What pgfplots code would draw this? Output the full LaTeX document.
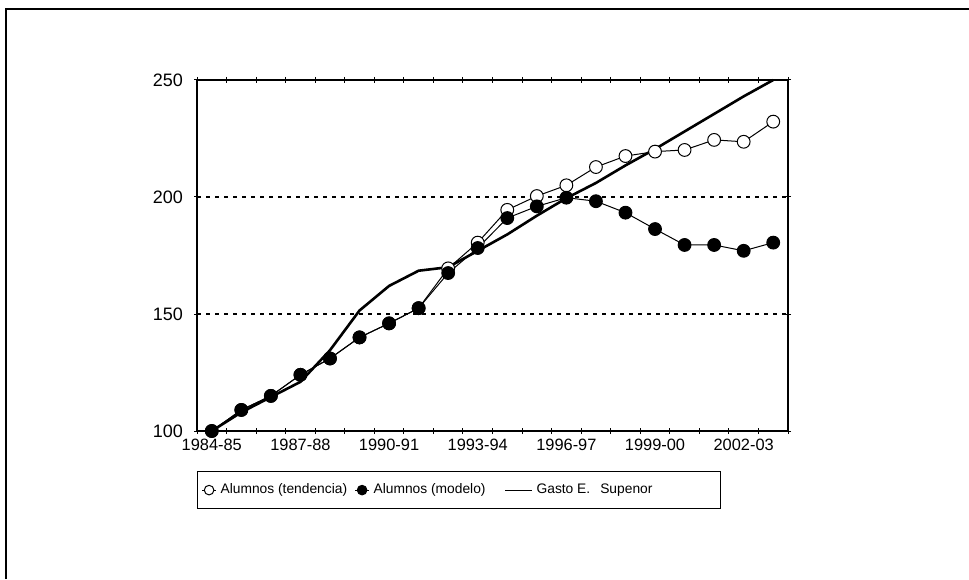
\documentclass[border=0pt]{standalone}
\usepackage{fontspec}
\setmainfont{Liberation Sans}
\usepackage{pgfplots}
\pgfplotsset{compat=1.18}
\pgfplotsset{
  markleg/.style={legend image code/.code={\draw[mark repeat=2,mark phase=2,mark size=2.4pt,##1] plot coordinates {(0pt,0pt)(3.5pt,0pt)(7pt,0pt)};}},
  lineleg/.style={legend image code/.code={\draw[##1, line width=0.5pt] (0pt,0pt) -- (13.5pt,0pt);}},
}
\pgfplotstableread{
i tend model gasto
0 100 100 100
1 109 109 108
2 115 115 114.5
3 124 124 121
4 131 131 134.5
5 140 140 151.5
6 146 146 162
7 152.5 152.5 168.5
8 169.5 167.5 170
9 180.5 178.2 177
10 194.5 191 184
11 200.4 196 192
12 205 199.7 199.5
13 212.8 198.2 206
14 217.5 193.3 213.5
15 219.4 186.3 220.5
16 220.1 179.5 228
17 224.4 179.5 235.5
18 223.6 177 243
19 232.2 180.5 250
}\datatable
\begin{document}
\begin{tikzpicture}
\useasboundingbox (0pt,0pt) rectangle (484.5pt,289.5pt);
\draw[line width=0.9pt] (3pt,0pt) -- (3pt,285pt) -- (484.5pt,285pt);
\begin{axis}[
  at={(98.5pt,74pt)}, anchor=south west,
  scale only axis, width=295.5pt, height=175.5pt,
  xmin=-0.5, xmax=19.5, ymin=100, ymax=250,
  clip=false,
  axis line style={line width=0.7pt},
  xtick={0,3,6,9,12,15,18},
  xticklabels={1984-85,1987-88,1990-91,1993-94,1996-97,1999-00,2002-03},
  minor xtick={-0.5,0.5,...,19.5},
  major x tick style={draw=none},
  minor tick length=3pt,
  ytick={100,150,200,250},
  major tick length=3pt,
  tick align=center,
  tick style={black, line width=0.5pt},
  ymajorgrids,
  grid style={black, line width=0.6pt, dash pattern=on 2pt off 2.5pt},
  /pgf/number format/assume math mode=true,
  xticklabel style={font=\fontsize{8.2}{9}\selectfont, yshift=1pt},
  yticklabel style={font=\fontsize{9}{10}\selectfont, xshift=-2pt},
  legend style={at={(0,-0.114)}, anchor=north west, draw=black, line width=0.6pt,
    font=\fontsize{6.9}{8}\selectfont, inner xsep=2pt, inner ysep=4pt,
    /tikz/every even column/.append style={column sep=1pt}},
  legend columns=3,
  legend cell align=left,
]
\addplot[black, line width=0.5pt, mark=*, mark size=3.2pt, mark options={fill=white, line width=0.5pt}, markleg]
  table[x=i, y=tend] {\datatable};
\addlegendentry{\makebox[64pt][l]{Alumnos (tendencia)}}
\addplot[black, line width=0.5pt, mark=*, mark size=3.2pt, mark options={fill=black}, markleg]
  table[x=i, y=model] {\datatable};
\addlegendentry{\makebox[62.5pt][l]{Alumnos (modelo)}}
\addplot[black, line width=1.3pt, line join=round, mark=none, lineleg]
  table[x=i, y=gasto] {\datatable};
\addlegendentry{\makebox[88pt][l]{Gasto E.\hspace{5pt}Supenor}}
\end{axis}
\end{tikzpicture}
\end{document}
